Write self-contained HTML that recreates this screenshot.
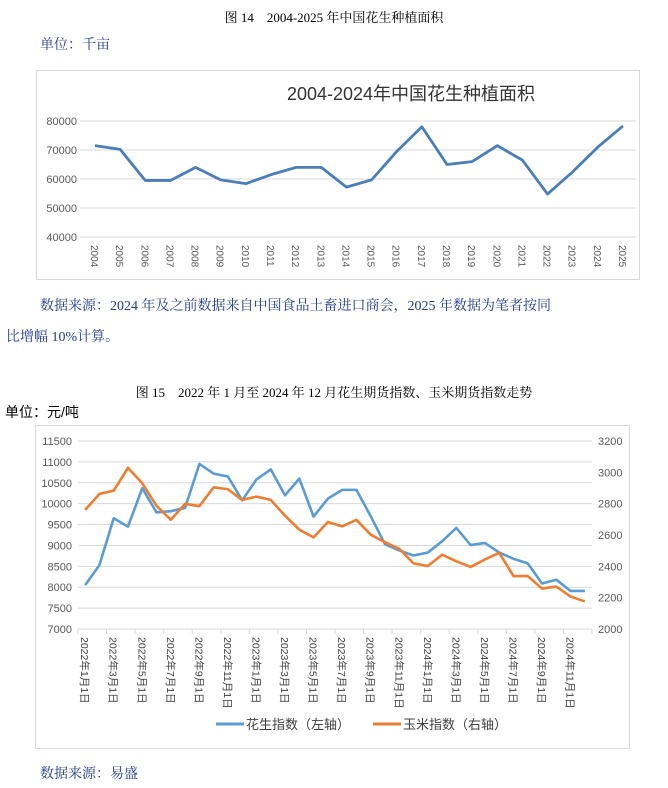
<!DOCTYPE html>
<html><head><meta charset="utf-8"><style>
body{margin:0;background:#fff;width:668px;height:783px;overflow:hidden;font-family:"Liberation Sans","Noto Sans CJK SC",sans-serif}
svg text{font-family:"Liberation Sans","Noto Sans CJK SC",sans-serif}
.serif{font-family:"Liberation Serif","Noto Serif CJK SC",serif}
</style></head><body>
<svg id="svg" width="668" height="783" xmlns="http://www.w3.org/2000/svg">
<text x="334" y="22" text-anchor="middle" font-size="13" class="serif">图 14　2004-2025 年中国花生种植面积</text>
<text x="40" y="49" font-size="14" fill="#1f3a93" class="serif">单位：千亩</text>
<rect x="36.5" y="70.5" width="603" height="209" fill="#fff" stroke="#d9d9d9"/>
<text x="411" y="100" text-anchor="middle" font-size="18" fill="#333">2004-2024年中国花生种植面积</text>
<g id="c1"></g>
<text x="40" y="310" font-size="14" fill="#1f3a93" class="serif">数据来源：2024 年及之前数据来自中国食品土畜进口商会，2025 年数据为笔者按同</text>
<text x="6" y="341" font-size="14" fill="#1f3a93" class="serif">比增幅 10%计算。</text>
<text x="334" y="397" text-anchor="middle" font-size="13" class="serif">图 15　2022 年 1 月至 2024 年 12 月花生期货指数、玉米期货指数走势</text>
<text x="5" y="417" font-size="14">单位：元/吨</text>
<rect x="35.5" y="425.5" width="594" height="323" fill="#fff" stroke="#d9d9d9"/>
<g id="c2"></g>
<text x="40" y="778" font-size="14" fill="#1f3a93" class="serif">数据来源：易盛</text>
</svg>
<script>
const years=["2004","2005","2006","2007","2008","2009","2010","2011","2012","2013","2014","2015","2016","2017","2018","2019","2020","2021","2022","2023","2024","2025"];
const area=[71500,70200,59500,59500,64000,59700,58400,61500,64000,64000,57200,59700,69500,78000,65000,66000,71500,66500,54800,62500,71000,78300];
const ticks1=[40000,50000,60000,70000,80000];
const months=[];for(let y=2022;y<=2024;y++)for(let m=1;m<=12;m++)months.push(y+"年"+m+"月1日");
const peanut=[8050,8530,9650,9450,10370,9790,9820,9900,10950,10720,10650,10080,10580,10820,10200,10600,9690,10120,10330,10330,9700,9030,8880,8760,8830,9100,9420,9010,9060,8830,8680,8570,8090,8180,7910,7910];
const corn=[2760,2862,2883,3029,2930,2786,2697,2799,2784,2904,2892,2824,2845,2824,2723,2634,2585,2683,2655,2697,2602,2554,2512,2419,2402,2474,2432,2396,2444,2486,2338,2338,2258,2271,2207,2176];
const leftTicks=[7000,7500,8000,8500,9000,9500,10000,10500,11000,11500];
const rightTicks=[2000,2200,2400,2600,2800,3000,3200];
const NS="http://www.w3.org/2000/svg";
function mk(p,t,a){const e=document.createElementNS(NS,t);for(const k in a)e.setAttribute(k,a[k]);p.appendChild(e);return e;}
const c1=document.getElementById('c1');
const x1=i=>95+i*(623-95)/(years.length-1);
const y1=v=>237-(v-40000)/40000*116;
ticks1.forEach(t=>{const l=mk(c1,'line',{x1:80,x2:636,y1:y1(t),y2:y1(t),stroke:'#d9d9d9'});


const tx=mk(c1,'text',{x:77,y:y1(t)+4,'text-anchor':'end','font-size':11,fill:'#595959'});tx.textContent=t;

});
years.forEach((yr,i)=>{const tx=mk(c1,'text',{transform:`translate(${x1(i)-4},${245}) rotate(90)`,'font-size':10,fill:'#595959'});tx.textContent=yr;

});
const p1=mk(c1,'polyline',{points:area.map((v,i)=>x1(i)+','+y1(v)).join(' '),fill:'none',stroke:'#4a7ebb','stroke-width':2.8,'stroke-linejoin':'round'});


const c2=document.getElementById('c2');
const L=78,R=592,cw=(R-L)/months.length;
const x2=i=>L+cw*(i+0.5);
const yl=v=>629-(v-7000)/4500*188;
const yr=v=>629-(v-2000)/1200*188;
leftTicks.forEach(t=>{const l=mk(c2,'line',{x1:L,x2:R,y1:yl(t),y2:yl(t),stroke:'#d9d9d9'});


const tx=mk(c2,'text',{x:72,y:yl(t)+4,'text-anchor':'end','font-size':11,fill:'#595959'});tx.textContent=t;

});
rightTicks.forEach(t=>{const tx=mk(c2,'text',{x:598,y:yr(t)+4,'font-size':11,fill:'#595959'});tx.textContent=t;

});
for(let i=0;i<=months.length;i+=2){const l=mk(c2,'line',{x1:L+i*cw,x2:L+i*cw,y1:629,y2:634,stroke:'#d9d9d9'});

}
months.forEach((m,i)=>{if(i%2)return;const tx=mk(c2,'text',{transform:`translate(${x2(i)-4},${637}) rotate(90)`,'font-size':10.5,fill:'#404040'});tx.textContent=m;

});
const pb=mk(c2,'polyline',{points:peanut.map((v,i)=>x2(i)+','+yl(v)).join(' '),fill:'none',stroke:'#5b9bd5','stroke-width':2.6,'stroke-linejoin':'round'});


const po=mk(c2,'polyline',{points:corn.map((v,i)=>x2(i)+','+yr(v)).join(' '),fill:'none',stroke:'#ed7d31','stroke-width':2.6,'stroke-linejoin':'round'});


const lg1=mk(c2,'line',{x1:216,x2:244,y1:724,y2:724,stroke:'#5b9bd5','stroke-width':3});


const lt1=mk(c2,'text',{x:246,y:729,'font-size':13,fill:'#404040'});lt1.textContent='花生指数（左轴）';


const lg2=mk(c2,'line',{x1:373,x2:401,y1:724,y2:724,stroke:'#ed7d31','stroke-width':3});


const lt2=mk(c2,'text',{x:403,y:729,'font-size':13,fill:'#404040'});lt2.textContent='玉米指数（右轴）';


</script>
</body></html>
